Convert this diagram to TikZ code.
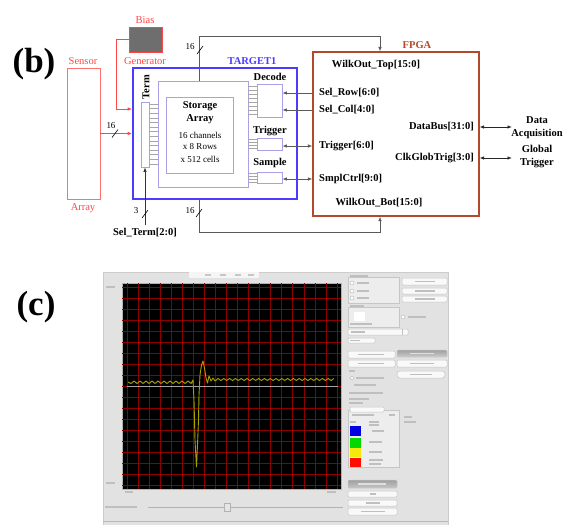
\documentclass[tikz,border=0pt]{standalone}
\usepackage{fontspec}
\setmainfont{Liberation Serif}
\usetikzlibrary{arrows.meta}
\definecolor{sred}{HTML}{FF4646}
\definecolor{pink}{HTML}{FF7070}
\definecolor{tblue}{HTML}{4B3CFF}
\definecolor{lav}{HTML}{A8A0E8}
\definecolor{fbrown}{HTML}{B4482A}
\definecolor{wgray}{HTML}{5A5A5A}
\definecolor{panelc}{HTML}{E2E2E2}
\definecolor{gridc}{HTML}{8C0000}
\definecolor{wavec}{HTML}{A8A200}
\definecolor{biasc}{HTML}{6E6E6E}
\begin{document}
\begin{tikzpicture}[x=1pt,y=-1pt,
  >={Latex[length=4.5pt,width=3.5pt]},
  bigf/.style={font=\fontsize{35}{36}\selectfont\bfseries, inner sep=0},
  lbl/.style={font=\fontsize{10.5}{11}\selectfont\bfseries, inner sep=0},
  rlbl/.style={font=\fontsize{10.5}{11}\selectfont, inner sep=0, text=sred},
  small/.style={font=\fontsize{9}{10}\selectfont, inner sep=0},
  cell/.style={font=\fontsize{9}{10}\selectfont, inner sep=0},
  bx/.style={draw=lav, line width=0.8pt, inner sep=0},
  wire/.style={draw=wgray, line width=0.8pt},
  redwire/.style={draw=sred, line width=0.9pt},
  comb/.style={draw=gray!70, line width=0.5pt},
  slashm/.style={draw=black, line width=0.6pt},
  btn/.style={fill=gray!5, draw=gray!45, line width=0.5pt, rounded corners=1pt},
  blob/.style={fill=gray!50},
  grp/.style={fill=gray!14, draw=gray!45, line width=0.4pt}
]
\useasboundingbox (0,0) rectangle (566,525);
\fill[white] (0,0) rectangle (566,525);

% ---------------- (b) ----------------
\node[bigf] (lb) at (34,64) {(b)};
\node[rlbl] (sensorlbl) at (83,61) {Sensor};
\node[draw=pink, line width=0.8pt, minimum width=33pt, minimum height=131pt, inner sep=0] (sensor) at (83.5,133.5) {};
\node[rlbl] (arraylbl) at (83,208) {Array};
\node[rlbl] (biaslbl) at (145,20) {Bias};
\node[draw=sred, fill=biasc, line width=0.8pt, minimum width=33pt, minimum height=25pt, inner sep=0] (bias) at (145.5,39.5) {};
\node[rlbl] (genlbl) at (145,61) {Generator};

\node[draw=tblue, line width=1.6pt, minimum width=164pt, minimum height=131pt, inner sep=0] (target) at (215,133.5) {};
\node[lbl, text=tblue] (targetlbl) at (252,61) {TARGET1};
\node[bx, minimum width=90pt, minimum height=106pt] (inner) at (203,134) {};
\node[bx, minimum width=67pt, minimum height=76pt] (storage) at (199.5,135) {};
\node[lbl] (st1) at (200,106) {Storage};
\node[lbl] (st2) at (200,119) {Array};
\node[cell] (st3) at (200,135) {16 channels};
\node[cell] (st4) at (200,147) {x 8 Rows};
\node[cell] (st5) at (200,159) {x 512 cells};
\node[bx, minimum width=8pt, minimum height=65pt] (term) at (145,134.5) {};
\node[lbl, rotate=90] (termlbl) at (146,87) {Term};
\node[bx, minimum width=25pt, minimum height=33pt] (decode) at (269.5,100.5) {};
\node[bx, minimum width=25pt, minimum height=12pt] (trig) at (269.5,144) {};
\node[bx, minimum width=25pt, minimum height=11pt] (sample) at (269.5,177.5) {};
\node[lbl] (decodelbl) at (270,77) {Decode};
\node[lbl] (triglbl) at (270,131) {Trigger};
\node[lbl] (samplelbl) at (270,163) {Sample};

% combs
\foreach \y in {104,108.6,113.2,117.8,122.4,127,131.6,136.2,140.8,145.4,150,154.6,159.2,163.8}
  \draw[comb] (term.east |- 0,\y) -- (inner.west |- 0,\y);
\foreach \y in {86,90,94,98,102,106,110,114}
  \draw[comb] (inner.east |- 0,\y) -- (decode.west |- 0,\y);
\foreach \y in {139.5,142.5,145.5,148.5}
  \draw[comb] (inner.east |- 0,\y) -- (trig.west |- 0,\y);
\foreach \y in {173.5,176.3,179.1,181.9}
  \draw[comb] (inner.east |- 0,\y) -- (sample.west |- 0,\y);

% FPGA
\node[draw=fbrown, line width=1.1pt, minimum width=166pt, minimum height=164pt, inner sep=0] (fpga) at (396,134) {};
\node[lbl, text=fbrown] (fpgalbl) at (417,45) {FPGA};
\node[lbl] (wtop) at (376,65) {WilkOut\_Top[15:0]};
\node[lbl, anchor=west] (selrow) at (319,93) {Sel\_Row[6:0]};
\node[lbl, anchor=west] (selcol) at (319,110) {Sel\_Col[4:0]};
\node[lbl, anchor=west] (trigf) at (319,146) {Trigger[6:0]};
\node[lbl, anchor=west] (smpl) at (319,179) {SmplCtrl[9:0]};
\node[lbl] (wbot) at (379,203) {WilkOut\_Bot[15:0]};
\node[lbl, anchor=east] (dbus) at (474,127) {DataBus[31:0]};
\node[lbl, anchor=east] (clk) at (474,158) {ClkGlobTrig[3:0]};
\node[lbl, align=center, font=\fontsize{10.5}{13}\selectfont\bfseries] (daq) at (537,127.5) {Data\\Acquisition};
\node[lbl, align=center, font=\fontsize{10.5}{13}\selectfont\bfseries] (gtrig) at (537,156.5) {Global\\Trigger};
\coordinate (daqend) at (512,127);
\coordinate (gtend) at (512,158);

% red wires
\coordinate (gbend) at (116,109);
\draw[redwire, ->] (bias.west) -| (gbend) -- (gbend -| target.west);
\draw[redwire, ->] (sensor.east) -- (sensor.east -| target.west);
\coordinate (s1) at (115,133.5);
\draw[slashm] (s1) ++(-3,4) -- ++(6,-8);
\node[small] (s1l) at (111,126) {16};

% top / bottom WilkOut buses
\coordinate (tsrc) at (199,81);
\coordinate (tA) at (199,36);
\coordinate (tB) at (380,36);
\draw[wire, ->] (tsrc) -- (tA) -- (tB) -- (tB |- fpga.north);
\coordinate (t1) at (200,50);
\draw[slashm] (t1) ++(-3,4) -- ++(6,-8);
\node[small] (t1l) at (190,47) {16};

\coordinate (bsrc) at (199,199);
\coordinate (bA) at (199,232);
\coordinate (bB) at (380,232);
\draw[wire, ->] (bsrc) -- (bA) -- (bB) -- (bB |- fpga.south);
\coordinate (b1) at (199,213);
\draw[slashm] (b1) ++(-3,4) -- ++(6,-8);
\node[small] (b1l) at (190,211) {16};

% Sel_Term
\node[lbl] (selterm) at (145,233) {Sel\_Term[2:0]};
\coordinate (stin) at (145,225);
\draw[wire, draw=black!80, ->] (stin) -- (term.south);
\coordinate (st) at (145,214);
\draw[slashm] (st) ++(-3,4) -- ++(6,-8);
\node[small] (stl) at (136,211) {3};

% control wires
\draw[wire, ->] (selrow.west -| fpga.west) -- (selrow.west -| decode.east);
\draw[wire, ->] (selcol.west -| fpga.west) -- (selcol.west -| decode.east);
\draw[wire, <->] (trig.east |- trigf.west) -- (trigf.west -| fpga.west);
\draw[wire, <->] (sample.east |- smpl.west) -- (smpl.west -| fpga.west);
\draw[wire, draw=black!85, <->] (dbus.east -| fpga.east) -- (daqend);
\draw[wire, draw=black!85, <->] (clk.east -| fpga.east) -- (gtend);

% ---------------- (c) ----------------
\node[bigf] (lc) at (36,307) {(c)};
\fill[panelc] (103,272) rectangle (448,525);
\draw[gray!40, line width=0.5pt] (103,272) rectangle (448,525);
\fill[gray!8] (189,272) rectangle (259,278);
\foreach \x in {205,220,235,248} \fill[gray!45] (\x,274) rectangle ++(6,2);

% plot
\fill[black] (122,283) rectangle (341,489);
\draw[gray!60, line width=0.8pt] (122,283) rectangle (341,489);
\foreach \i in {0,...,19} \draw[gridc, line width=0.55pt] ({127+\i*11.05},283) -- ({127+\i*11.05},489);
\foreach \j in {0,...,18} \draw[gridc, line width=0.55pt] (122,{287.7+\j*10.96}) -- (341,{287.7+\j*10.96});
\draw[gray!70, line width=1pt] (127,386) -- (338,386);
\draw[wavec, line width=0.9pt, line join=round]
  (128,382) \foreach \i in {1,...,21} { -- ({128+\i*3},{381+2.5*mod(\i,2)}) }
  -- (193,380) -- (194,400) -- (195,440) -- (196.5,467) -- (197.5,445) -- (198.5,420)
  -- (199,395) -- (200,375) -- (201.5,365) -- (203,361) -- (204.5,368) -- (206,378)
  -- (207.5,383) -- (209,376) -- (211,381) -- (213,378) -- (215,381)
  \foreach \i in {0,...,40} { -- ({218+\i*2.9},{378.5+2*mod(\i,2)}) };
% axis labels
\fill[blob] (106,286) rectangle ++(9,1.8);
\fill[blob] (106,482) rectangle ++(9,1.8);
\fill[blob] (125,491) rectangle ++(8,1.8);
\fill[blob] (327,491) rectangle ++(9,1.8);
\fill[blob] (105,506) rectangle ++(32,1.8);
% slider
\draw[gray!60, line width=1pt] (148,507) -- (343,507);
\fill[gray!20] (224,503) rectangle (230,511);
\draw[gray!60, line width=0.4pt] (224,503) rectangle (230,511);

% right controls
\draw[grp] (348,277) rectangle (399,303);
\fill[blob] (350,275) rectangle ++(18,1.5);
\foreach \y in {283,291,298} {
  \draw[gray!60, fill=white, line width=0.4pt] (352,\y) circle (2);
  \fill[blob] (357,{\y-0.8}) rectangle ++(12,1.6);
}
\foreach \ya/\yb in {278/285,288/294,296/302} {
  \draw[btn] (402,\ya) rectangle (447,\yb);
  \fill[blob] (415,{(\ya+\yb)/2-0.8}) rectangle ++(20,1.6);
}
\draw[grp] (348,307) rectangle (399,327);
\fill[blob] (350,305) rectangle ++(14,1.5);
\fill[white] (354,312) rectangle (365,321);
\fill[blob] (350,323) rectangle ++(22,1.5);
\draw[gray!60, fill=white, line width=0.4pt] (403,317) circle (2);
\fill[blob] (408,316.2) rectangle ++(18,1.6);
\draw[btn] (348,329) rectangle (408,335);
\fill[blob] (351,331.2) rectangle ++(14,1.6);
\draw[gray!50, line width=0.4pt] (402,329) -- (402,335);
\draw[btn] (348,338) rectangle (375,343);
\fill[blob] (350,339.7) rectangle ++(10,1.6);
\foreach \ya/\yb in {351/358,360/367} {
  \draw[btn] (348,\ya) rectangle (395,\yb);
  \fill[blob] (358,{(\ya+\yb)/2-0.8}) rectangle ++(26,1.6);
}
\draw[btn, top color=gray!75, bottom color=gray!40] (397,350) rectangle (447,357);
\fill[gray!25] (410,352.7) rectangle ++(24,1.6);
\draw[btn] (397,360) rectangle (447,367);
\fill[blob] (410,362.7) rectangle ++(24,1.6);
\draw[btn, rounded corners=3pt] (397,371) rectangle (445,378);
\fill[blob] (410,373.7) rectangle ++(22,1.6);
\fill[blob] (349,370) rectangle ++(6,1.6);
\draw[gray!60, fill=white, line width=0.4pt] (352,378) circle (1.8);
\fill[blob] (356,377.2) rectangle ++(28,1.6);
\fill[blob] (354,384.2) rectangle ++(22,1.6);
\fill[blob] (349,392.2) rectangle ++(34,1.6);
\fill[blob] (349,398.2) rectangle ++(20,1.6);
\fill[blob] (349,402.2) rectangle ++(14,1.6);
% legend group
\draw[grp] (348,410) rectangle (399,467);
\draw[btn] (350,407) rectangle (384,412);
\fill[blob] (352,414) rectangle ++(22,1.6);
\fill[blob] (389,414) rectangle ++(6,1.6);
\fill[blob] (350,421) rectangle ++(6,1.5);
\fill[blob] (369,421) rectangle ++(10,1.5);
\fill[blob] (369,424) rectangle ++(10,1.5);
\fill[blob] (404,416) rectangle ++(8,1.5);
\fill[blob] (404,421) rectangle ++(12,1.5);
\fill[blue!90!black] (350,426) rectangle (361,436);
\fill[green!85!black] (350,438) rectangle (361,448);
\fill[yellow!95!black] (350,448) rectangle (361,457);
\fill[red!90!orange] (350,458) rectangle (361,467);
\fill[blob] (372,430) rectangle ++(12,1.5);
\fill[blob] (369,441) rectangle ++(13,1.5);
\fill[blob] (369,451) rectangle ++(13,1.5);
\fill[blob] (369,459) rectangle ++(14,1.5);
\fill[blob] (369,463) rectangle ++(12,1.5);
% bottom buttons
\draw[btn, top color=gray!75, bottom color=gray!45] (348,480) rectangle (397,488);
\fill[gray!25] (358,483.2) rectangle ++(28,1.6);
\foreach \ya/\yb/\w in {491/497/6,500/506/14,508/515/24} {
  \draw[btn] (348,\ya) rectangle (397,\yb);
  \fill[blob] ({372.5-\w/2},{(\ya+\yb)/2-0.8}) rectangle ++(\w,1.6);
}
\draw[gray!55, line width=0.6pt] (103,521) -- (448,521);
\end{tikzpicture}
\end{document}
